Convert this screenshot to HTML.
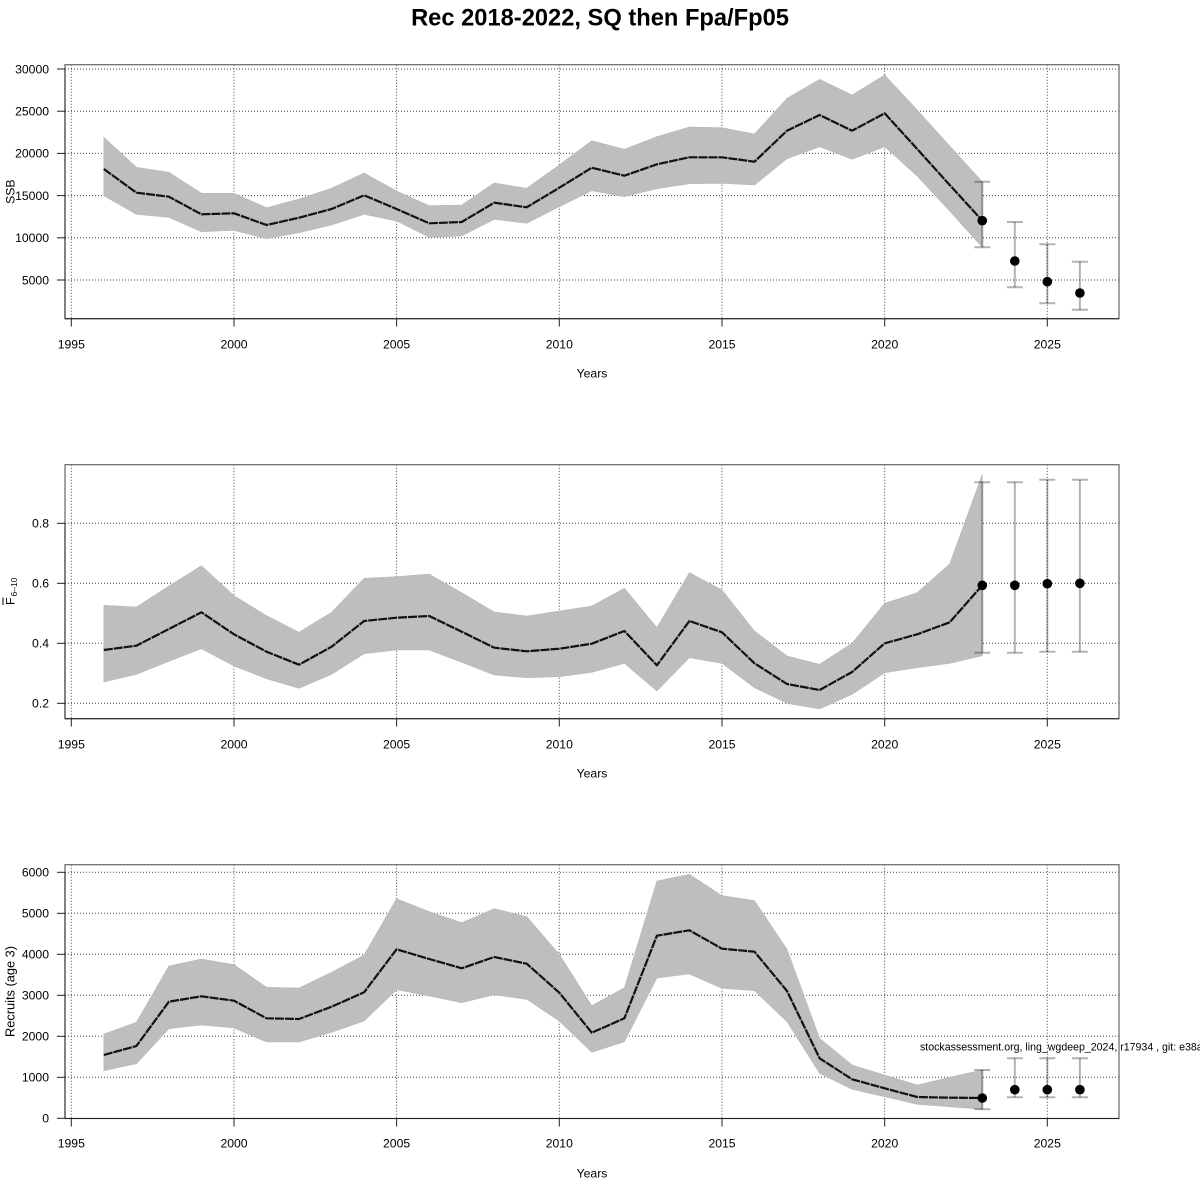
<!DOCTYPE html>
<html>
<head>
<meta charset="utf-8">
<style>
html,body{margin:0;padding:0;background:#fff;}
svg{display:block;}
text{font-family:"Liberation Sans","DejaVu Sans",sans-serif;fill:#000;}
.grid{stroke:#444;stroke-width:1;stroke-dasharray:1 2;fill:none;}
.box{stroke:#666;stroke-width:1.2;fill:none;}
.ax{stroke:#222;stroke-width:1;fill:none;}
.band{fill:#bebebe;stroke:#b8b8b8;stroke-width:0.6;}
.mean{fill:none;stroke:#111;stroke-width:2.2;stroke-dasharray:9 1;stroke-linejoin:round;}
.eb{stroke:rgba(0,0,0,0.3);stroke-width:2;fill:none;}
.tl{font-size:12.2px;}
.al{font-size:12.2px;}
</style>
</head>
<body>
<svg width="1200" height="1200" viewBox="0 0 1200 1200" xmlns="http://www.w3.org/2000/svg">
<rect x="0" y="0" width="1200" height="1200" fill="#fff"/>
<text x="600" y="25.7" text-anchor="middle" font-size="23.7" font-weight="bold">Rec 2018-2022, SQ then Fpa/Fp05</text>

<!-- ============ PANEL 1 : SSB ============ -->
<g>
<g class="grid">
<line x1="71.3" y1="64.7" x2="71.3" y2="318.7"/>
<line x1="234" y1="64.7" x2="234" y2="318.7"/>
<line x1="396.6" y1="64.7" x2="396.6" y2="318.7"/>
<line x1="559.3" y1="64.7" x2="559.3" y2="318.7"/>
<line x1="722" y1="64.7" x2="722" y2="318.7"/>
<line x1="884.7" y1="64.7" x2="884.7" y2="318.7"/>
<line x1="1047.3" y1="64.7" x2="1047.3" y2="318.7"/>
<line x1="65" y1="69" x2="1119" y2="69"/>
<line x1="65" y1="111.2" x2="1119" y2="111.2"/>
<line x1="65" y1="153.4" x2="1119" y2="153.4"/>
<line x1="65" y1="195.6" x2="1119" y2="195.6"/>
<line x1="65" y1="237.8" x2="1119" y2="237.8"/>
<line x1="65" y1="280" x2="1119" y2="280"/>
</g>
<polygon class="band" points="103.8,137.3 136.4,167.3 168.9,172.3 201.4,193.3 234,193.3 266.5,207.7 299,199 331.6,188.3 364.1,173 396.6,191 429.2,205.7 461.7,205 494.2,183 526.7,188.3 559.3,165 591.8,140.7 624.4,149.3 656.9,136.7 689.4,127 722,127.7 754.5,134 787,98.3 819.6,79.3 852.1,95 884.7,75 917.2,110 949.7,146 982.3,181.7 982.3,247.3 949.7,211 917.2,176 884.7,146.7 852.1,159.3 819.6,146.7 787,158.7 754.5,185 722,183.3 689.4,183.7 656.9,188.7 624.4,196.7 591.8,190.7 559.3,206.7 526.7,223.3 494.2,219.3 461.7,236 429.2,237.3 396.6,221 364.1,214.3 331.6,225 299,232.7 266.5,238.7 234,230.3 201.4,231.7 168.9,217.3 136.4,214.3 103.8,195.7"/>
<polyline class="mean" points="103.8,169 136.4,192.7 168.9,196.7 201.4,214.3 234,213.3 266.5,225 299,217.7 331.6,209 364.1,195.3 396.6,209 429.2,223.3 461.7,222 494.2,202.7 526.7,207.3 559.3,187.7 591.8,167.7 624.4,175.7 656.9,164.3 689.4,157.3 722,157.3 754.5,161.7 787,130.7 819.6,115 852.1,130.7 884.7,113.3 917.2,149 949.7,185 982.3,220.7"/>
<g class="eb">
<line x1="982.3" y1="181.7" x2="982.3" y2="247.3"/><line x1="974.3" y1="181.7" x2="990.3" y2="181.7"/><line x1="974.3" y1="247.3" x2="990.3" y2="247.3"/>
<line x1="1014.8" y1="222" x2="1014.8" y2="287.3"/><line x1="1006.8" y1="222" x2="1022.8" y2="222"/><line x1="1006.8" y1="287.3" x2="1022.8" y2="287.3"/>
<line x1="1047.3" y1="244.3" x2="1047.3" y2="303.3"/><line x1="1039.3" y1="244.3" x2="1055.3" y2="244.3"/><line x1="1039.3" y1="303.3" x2="1055.3" y2="303.3"/>
<line x1="1079.9" y1="261.7" x2="1079.9" y2="309.7"/><line x1="1071.9" y1="261.7" x2="1087.9" y2="261.7"/><line x1="1071.9" y1="309.7" x2="1087.9" y2="309.7"/>
</g>
<circle cx="982.3" cy="220.7" r="4.8"/>
<circle cx="1014.8" cy="261" r="4.8"/>
<circle cx="1047.3" cy="281.7" r="4.8"/>
<circle cx="1079.9" cy="293" r="4.8"/>
<rect class="box" x="65" y="64.7" width="1054" height="254"/>
<g class="ax">
<line x1="65" y1="69" x2="65" y2="318.7"/>
<line x1="65" y1="318.7" x2="1119" y2="318.7"/>
<line x1="57" y1="69" x2="65" y2="69"/>
<line x1="57" y1="111.2" x2="65" y2="111.2"/>
<line x1="57" y1="153.4" x2="65" y2="153.4"/>
<line x1="57" y1="195.6" x2="65" y2="195.6"/>
<line x1="57" y1="237.8" x2="65" y2="237.8"/>
<line x1="57" y1="280" x2="65" y2="280"/>
<line x1="71.3" y1="318.7" x2="71.3" y2="326.5"/>
<line x1="234" y1="318.7" x2="234" y2="326.5"/>
<line x1="396.6" y1="318.7" x2="396.6" y2="326.5"/>
<line x1="559.3" y1="318.7" x2="559.3" y2="326.5"/>
<line x1="722" y1="318.7" x2="722" y2="326.5"/>
<line x1="884.7" y1="318.7" x2="884.7" y2="326.5"/>
<line x1="1047.3" y1="318.7" x2="1047.3" y2="326.5"/>
</g>
<g class="tl" text-anchor="end">
<text x="49" y="73.3">30000</text>
<text x="49" y="115.5">25000</text>
<text x="49" y="157.7">20000</text>
<text x="49" y="199.9">15000</text>
<text x="49" y="242.1">10000</text>
<text x="49" y="284.3">5000</text>
</g>
<g class="tl" text-anchor="middle">
<text x="71.3" y="348.3">1995</text>
<text x="234" y="348.3">2000</text>
<text x="396.6" y="348.3">2005</text>
<text x="559.3" y="348.3">2010</text>
<text x="722" y="348.3">2015</text>
<text x="884.7" y="348.3">2020</text>
<text x="1047.3" y="348.3">2025</text>
</g>
<text class="al" x="592" y="377.3" text-anchor="middle">Years</text>
<text class="al" transform="translate(14.5,191.7) rotate(-90)" text-anchor="middle">SSB</text>
</g>

<!-- ============ PANEL 2 : F ============ -->
<g>
<g class="grid">
<line x1="71.3" y1="464.7" x2="71.3" y2="718.7"/>
<line x1="234" y1="464.7" x2="234" y2="718.7"/>
<line x1="396.6" y1="464.7" x2="396.6" y2="718.7"/>
<line x1="559.3" y1="464.7" x2="559.3" y2="718.7"/>
<line x1="722" y1="464.7" x2="722" y2="718.7"/>
<line x1="884.7" y1="464.7" x2="884.7" y2="718.7"/>
<line x1="1047.3" y1="464.7" x2="1047.3" y2="718.7"/>
<line x1="65" y1="523.3" x2="1119" y2="523.3"/>
<line x1="65" y1="583.3" x2="1119" y2="583.3"/>
<line x1="65" y1="643.3" x2="1119" y2="643.3"/>
<line x1="65" y1="703.3" x2="1119" y2="703.3"/>
</g>
<polygon class="band" points="103.8,605.3 136.4,607 168.9,586 201.4,565.7 234,595.7 266.5,615.7 299,632.3 331.6,612.3 364.1,578.3 396.6,576.7 429.2,574 461.7,592.7 494.2,612 526.7,616 559.3,611 591.8,606 624.4,588.3 656.9,627.7 689.4,572.7 722,590 754.5,631 787,656 819.6,664.3 852.1,643.3 884.7,603.3 917.2,592.7 949.7,564 982.3,474.3 982.3,655.7 949.7,663.3 917.2,667.7 884.7,672.7 852.1,694.3 819.6,709 787,703.3 754.5,687.7 722,663.3 689.4,657.7 656.9,691 624.4,663.3 591.8,672.3 559.3,676.7 526.7,677.7 494.2,675 461.7,662.3 429.2,650 396.6,650 364.1,653.7 331.6,674.3 299,688.3 266.5,678.7 234,666 201.4,648.7 168.9,661.3 136.4,674.3 103.8,682"/>
<polyline class="mean" points="103.8,650 136.4,645.7 168.9,629 201.4,612.3 234,634.3 266.5,651.7 299,664.7 331.6,646.7 364.1,621 396.6,617.7 429.2,616 461.7,631.7 494.2,647.7 526.7,651.3 559.3,648.7 591.8,643.7 624.4,631 656.9,665.3 689.4,621 722,632.3 754.5,663.3 787,684 819.6,690 852.1,672 884.7,643.3 917.2,634.3 949.7,622.3 982.3,585.3"/>
<g class="eb">
<line x1="982.3" y1="482.3" x2="982.3" y2="652.7"/><line x1="974.3" y1="482.3" x2="990.3" y2="482.3"/><line x1="974.3" y1="652.7" x2="990.3" y2="652.7"/>
<line x1="1014.8" y1="482.3" x2="1014.8" y2="652.7"/><line x1="1006.8" y1="482.3" x2="1022.8" y2="482.3"/><line x1="1006.8" y1="652.7" x2="1022.8" y2="652.7"/>
<line x1="1047.3" y1="479.7" x2="1047.3" y2="651.7"/><line x1="1039.3" y1="479.7" x2="1055.3" y2="479.7"/><line x1="1039.3" y1="651.7" x2="1055.3" y2="651.7"/>
<line x1="1079.9" y1="479.7" x2="1079.9" y2="651.7"/><line x1="1071.9" y1="479.7" x2="1087.9" y2="479.7"/><line x1="1071.9" y1="651.7" x2="1087.9" y2="651.7"/>
</g>
<circle cx="982.3" cy="585.3" r="4.8"/>
<circle cx="1014.8" cy="585.3" r="4.8"/>
<circle cx="1047.3" cy="583.7" r="4.8"/>
<circle cx="1079.9" cy="583.3" r="4.8"/>
<rect class="box" x="65" y="464.7" width="1054" height="254"/>
<g class="ax">
<line x1="65" y1="523.3" x2="65" y2="718.7"/>
<line x1="65" y1="718.7" x2="1119" y2="718.7"/>
<line x1="57" y1="523.3" x2="65" y2="523.3"/>
<line x1="57" y1="583.3" x2="65" y2="583.3"/>
<line x1="57" y1="643.3" x2="65" y2="643.3"/>
<line x1="57" y1="703.3" x2="65" y2="703.3"/>
<line x1="71.3" y1="718.7" x2="71.3" y2="726.5"/>
<line x1="234" y1="718.7" x2="234" y2="726.5"/>
<line x1="396.6" y1="718.7" x2="396.6" y2="726.5"/>
<line x1="559.3" y1="718.7" x2="559.3" y2="726.5"/>
<line x1="722" y1="718.7" x2="722" y2="726.5"/>
<line x1="884.7" y1="718.7" x2="884.7" y2="726.5"/>
<line x1="1047.3" y1="718.7" x2="1047.3" y2="726.5"/>
</g>
<g class="tl" text-anchor="end">
<text x="49" y="527.6">0.8</text>
<text x="49" y="587.6">0.6</text>
<text x="49" y="647.6">0.4</text>
<text x="49" y="707.6">0.2</text>
</g>
<g class="tl" text-anchor="middle">
<text x="71.3" y="748.3">1995</text>
<text x="234" y="748.3">2000</text>
<text x="396.6" y="748.3">2005</text>
<text x="559.3" y="748.3">2010</text>
<text x="722" y="748.3">2015</text>
<text x="884.7" y="748.3">2020</text>
<text x="1047.3" y="748.3">2025</text>
</g>
<text class="al" x="592" y="777.3" text-anchor="middle">Years</text>
<g transform="translate(14.5,592) rotate(-90)">
<text x="-13" y="0" font-size="12.2">F</text>
<line x1="-13" y1="-11.5" x2="-5.5" y2="-11.5" stroke="#000" stroke-width="1"/>
<text x="-4.5" y="2.5" font-size="8.5">6–10</text>
</g>
</g>

<!-- ============ PANEL 3 : Recruits ============ -->
<g>
<g class="grid">
<line x1="71.3" y1="864.7" x2="71.3" y2="1118.5"/>
<line x1="234" y1="864.7" x2="234" y2="1118.5"/>
<line x1="396.6" y1="864.7" x2="396.6" y2="1118.5"/>
<line x1="559.3" y1="864.7" x2="559.3" y2="1118.5"/>
<line x1="722" y1="864.7" x2="722" y2="1118.5"/>
<line x1="884.7" y1="864.7" x2="884.7" y2="1118.5"/>
<line x1="1047.3" y1="864.7" x2="1047.3" y2="1118.5"/>
<line x1="65" y1="872.3" x2="1119" y2="872.3"/>
<line x1="65" y1="913.3" x2="1119" y2="913.3"/>
<line x1="65" y1="954.3" x2="1119" y2="954.3"/>
<line x1="65" y1="995.3" x2="1119" y2="995.3"/>
<line x1="65" y1="1036.3" x2="1119" y2="1036.3"/>
<line x1="65" y1="1077.3" x2="1119" y2="1077.3"/>
</g>
<polygon class="band" points="103.8,1034 136.4,1022.3 168.9,966 201.4,959 234,964.7 266.5,987.3 299,988 331.6,972.3 364.1,955 396.6,898.7 429.2,911.7 461.7,922.7 494.2,908.7 526.7,916.7 559.3,954.3 591.8,1005.7 624.4,987.7 656.9,881 689.4,874.3 722,895.7 754.5,900.7 787,949.3 819.6,1038.3 852.1,1065 884.7,1075 917.2,1085 949.7,1077.3 982.3,1070 982.3,1109.3 949.7,1106.7 917.2,1104.3 884.7,1096.7 852.1,1089.3 819.6,1073.3 787,1021.7 754.5,990.7 722,988.3 689.4,974 656.9,978 624.4,1041.7 591.8,1052.3 559.3,1021 526.7,999.3 494.2,994.7 461.7,1002.7 429.2,996 396.6,989.7 364.1,1021 331.6,1032.3 299,1042 266.5,1042 234,1028 201.4,1025 168.9,1028.7 136.4,1063.7 103.8,1070.7"/>
<polyline class="mean" points="103.8,1055 136.4,1046 168.9,1001.7 201.4,996.3 234,1000.7 266.5,1018.3 299,1019 331.6,1006.7 364.1,992.3 396.6,949.3 429.2,959 461.7,968.3 494.2,957 526.7,963.7 559.3,992.7 591.8,1032.7 624.4,1018.3 656.9,935.7 689.4,930.3 722,948.7 754.5,951.7 787,991 819.6,1058.3 852.1,1079.3 884.7,1088.3 917.2,1097 949.7,1097.7 982.3,1098"/>
<g class="eb">
<line x1="982.3" y1="1070" x2="982.3" y2="1109.3"/><line x1="974.3" y1="1070" x2="990.3" y2="1070"/><line x1="974.3" y1="1109.3" x2="990.3" y2="1109.3"/>
<line x1="1014.8" y1="1058.3" x2="1014.8" y2="1097.3"/><line x1="1006.8" y1="1058.3" x2="1022.8" y2="1058.3"/><line x1="1006.8" y1="1097.3" x2="1022.8" y2="1097.3"/>
<line x1="1047.3" y1="1058.3" x2="1047.3" y2="1097.3"/><line x1="1039.3" y1="1058.3" x2="1055.3" y2="1058.3"/><line x1="1039.3" y1="1097.3" x2="1055.3" y2="1097.3"/>
<line x1="1079.9" y1="1058.3" x2="1079.9" y2="1097.3"/><line x1="1071.9" y1="1058.3" x2="1087.9" y2="1058.3"/><line x1="1071.9" y1="1097.3" x2="1087.9" y2="1097.3"/>
</g>
<circle cx="982.3" cy="1098" r="4.8"/>
<circle cx="1014.8" cy="1089.7" r="4.8"/>
<circle cx="1047.3" cy="1089.7" r="4.8"/>
<circle cx="1079.9" cy="1089.7" r="4.8"/>
<text x="920" y="1050.5" font-size="10.6">stockassessment.org, ling_wgdeep_2024, r17934 , git: e38a</text>
<rect class="box" x="65" y="864.7" width="1054" height="253.8"/>
<g class="ax">
<line x1="65" y1="872.3" x2="65" y2="1118.5"/>
<line x1="65" y1="1118.5" x2="1119" y2="1118.5"/>
<line x1="57" y1="872.3" x2="65" y2="872.3"/>
<line x1="57" y1="913.3" x2="65" y2="913.3"/>
<line x1="57" y1="954.3" x2="65" y2="954.3"/>
<line x1="57" y1="995.3" x2="65" y2="995.3"/>
<line x1="57" y1="1036.3" x2="65" y2="1036.3"/>
<line x1="57" y1="1077.3" x2="65" y2="1077.3"/>
<line x1="57" y1="1118.3" x2="65" y2="1118.3"/>
<line x1="71.3" y1="1118.5" x2="71.3" y2="1126.5"/>
<line x1="234" y1="1118.5" x2="234" y2="1126.5"/>
<line x1="396.6" y1="1118.5" x2="396.6" y2="1126.5"/>
<line x1="559.3" y1="1118.5" x2="559.3" y2="1126.5"/>
<line x1="722" y1="1118.5" x2="722" y2="1126.5"/>
<line x1="884.7" y1="1118.5" x2="884.7" y2="1126.5"/>
<line x1="1047.3" y1="1118.5" x2="1047.3" y2="1126.5"/>
</g>
<g class="tl" text-anchor="end">
<text x="49" y="876.6">6000</text>
<text x="49" y="917.6">5000</text>
<text x="49" y="958.6">4000</text>
<text x="49" y="999.6">3000</text>
<text x="49" y="1040.6">2000</text>
<text x="49" y="1081.6">1000</text>
<text x="49" y="1122.6">0</text>
</g>
<g class="tl" text-anchor="middle">
<text x="71.3" y="1147.5">1995</text>
<text x="234" y="1147.5">2000</text>
<text x="396.6" y="1147.5">2005</text>
<text x="559.3" y="1147.5">2010</text>
<text x="722" y="1147.5">2015</text>
<text x="884.7" y="1147.5">2020</text>
<text x="1047.3" y="1147.5">2025</text>
</g>
<text class="al" x="592" y="1177.3" text-anchor="middle">Years</text>
<text transform="translate(14.5,991.5) rotate(-90)" text-anchor="middle" font-size="12.8">Recruits (age 3)</text>
</g>
</svg>
</body>
</html>
